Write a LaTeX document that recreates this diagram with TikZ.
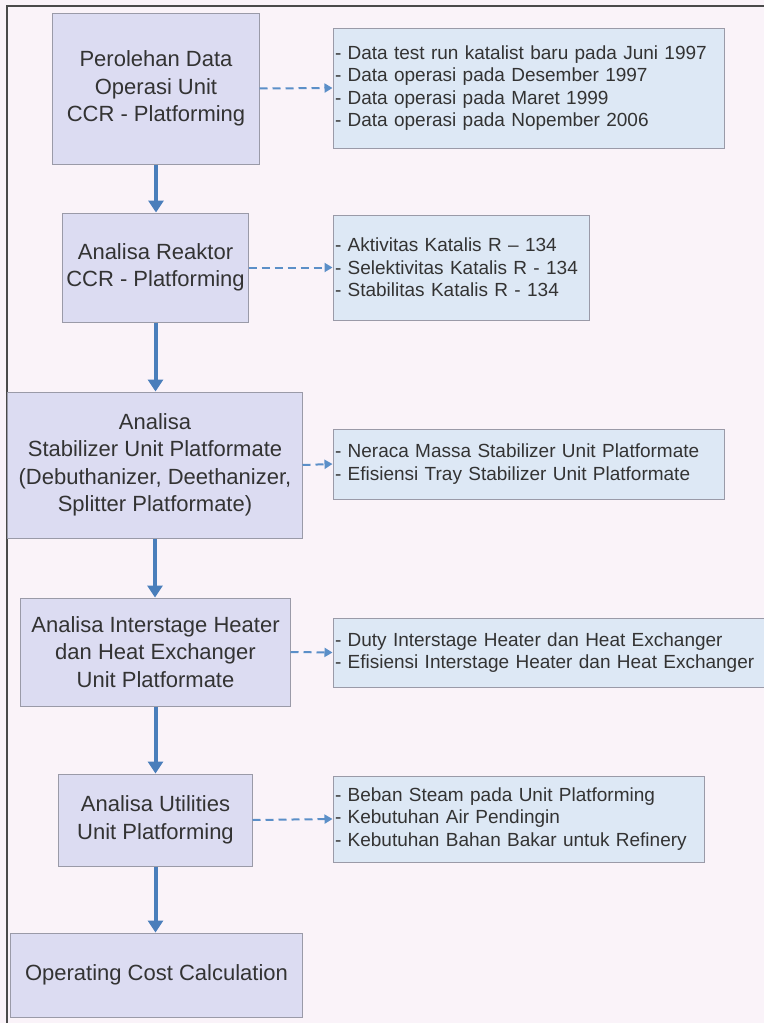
\documentclass[tikz,border=0pt]{standalone}
\usepackage{fontspec}
\setmainfont{Liberation Sans}
\usetikzlibrary{arrows.meta}
\definecolor{bgc}{HTML}{FAF3F9}
\definecolor{leftfill}{HTML}{DCDCF2}
\definecolor{rightfill}{HTML}{DDE8F5}
\definecolor{boxline}{HTML}{9A9AA8}
\definecolor{arrowc}{HTML}{4A7EBB}
\definecolor{dashc}{HTML}{5B8FC8}
\definecolor{txt}{HTML}{333333}
\definecolor{framec}{HTML}{4A4A4A}
\begin{document}
\begin{tikzpicture}[x=1bp,y=-1bp,
  leftbox/.style={draw=boxline, fill=leftfill, line width=1bp, text=txt, align=center, inner sep=0pt, font=\fontsize{22bp}{27.5bp}\selectfont},
  rightbox/.style={draw=boxline, fill=rightfill, line width=1bp, text=txt, align=left, inner xsep=2bp, inner ysep=0pt, font=\fontsize{19bp}{22.5bp}\selectfont},
  flow/.style={draw=arrowc, line width=4bp, -{Triangle[width=15bp,length=12bp]}},
  detail/.style={draw=dashc, line width=2bp, dash pattern=on 8bp off 5bp, -{Triangle[width=9bp,length=8bp]}},
  frameline/.style={draw=framec, line width=2.5bp}]

\fill[bgc] (0,0) rectangle (764,1023);
\useasboundingbox (0,0) rectangle (764,1023);

% outer frame (top and left edges)
\coordinate (fbl) at (7,1023);
\coordinate (ftl) at (7,6);
\coordinate (ftr) at (764,6);
\draw[frameline] (fbl) -- (ftl) -- (ftr);

% left column
\node[leftbox, minimum width=206bp, minimum height=151bp] (L1) at (156,88.5)
  {Perolehan Data\\Operasi Unit\\CCR - Platforming};
\node[leftbox, minimum width=185bp, minimum height=109bp] (L2) at (155.5,267.5)
  {Analisa Reaktor\\CCR - Platforming};
\node[leftbox, minimum width=294bp, minimum height=146bp] (L3) at (155,465)
  {Analisa\\Stabilizer Unit Platformate\\(Debuthanizer, Deethanizer,\\Splitter Platformate)};
\node[leftbox, minimum width=269bp, minimum height=108bp] (L4) at (155.5,652)
  {Analisa Interstage Heater\\dan Heat Exchanger\\Unit Platformate};
\node[leftbox, minimum width=193bp, minimum height=92bp] (L5) at (155.5,820)
  {Analisa Utilities\\Unit Platforming};
\node[leftbox, minimum width=291bp, minimum height=84bp] (L6) at (156.5,975)
  {Operating Cost Calculation};

% right column
\node[rightbox, text width=387bp, minimum height=120bp] (R1) at (528.5,88)
  {- Data test run katalist baru pada Juni 1997\\- Data operasi pada Desember 1997\\- Data operasi pada Maret 1999\\- Data operasi pada Nopember 2006};
\node[rightbox, text width=252bp, minimum height=105bp] (R2) at (461,267.5)
  {- Aktivitas Katalis R – 134\\- Selektivitas Katalis R - 134\\- Stabilitas Katalis R - 134};
\node[rightbox, text width=387bp, minimum height=70bp] (R3) at (528.5,464)
  {- Neraca Massa Stabilizer Unit Platformate\\- Efisiensi Tray Stabilizer Unit Platformate};
\node[rightbox, text width=450bp, minimum height=69bp] (R4) at (560,652.5)
  {- Duty Interstage Heater dan Heat Exchanger\\- Efisiensi Interstage Heater dan Heat Exchanger};
\node[rightbox, text width=367bp, minimum height=86bp] (R5) at (518.5,819)
  {- Beban Steam pada Unit Platforming\\- Kebutuhan Air Pendingin\\- Kebutuhan Bahan Bakar untuk Refinery};

% main flow
\draw[flow] (L1.south) -- (L1.south |- L2.north);
\draw[flow] (L2.south) -- (L2.south |- L3.north);
\draw[flow] (L3.south) -- (L3.south |- L4.north);
\draw[flow] (L4.south) -- (L4.south |- L5.north);
\draw[flow] (L5.south) -- (L5.south |- L6.north);

% detail links
\draw[detail] (L1.east) -- (R1.west);
\draw[detail] (L2.east) -- (R2.west);
\draw[detail] (L3.east) -- (R3.west);
\draw[detail] (L4.east) -- (R4.west);
\draw[detail] (L5.east) -- (R5.west);
\end{tikzpicture}
\end{document}
